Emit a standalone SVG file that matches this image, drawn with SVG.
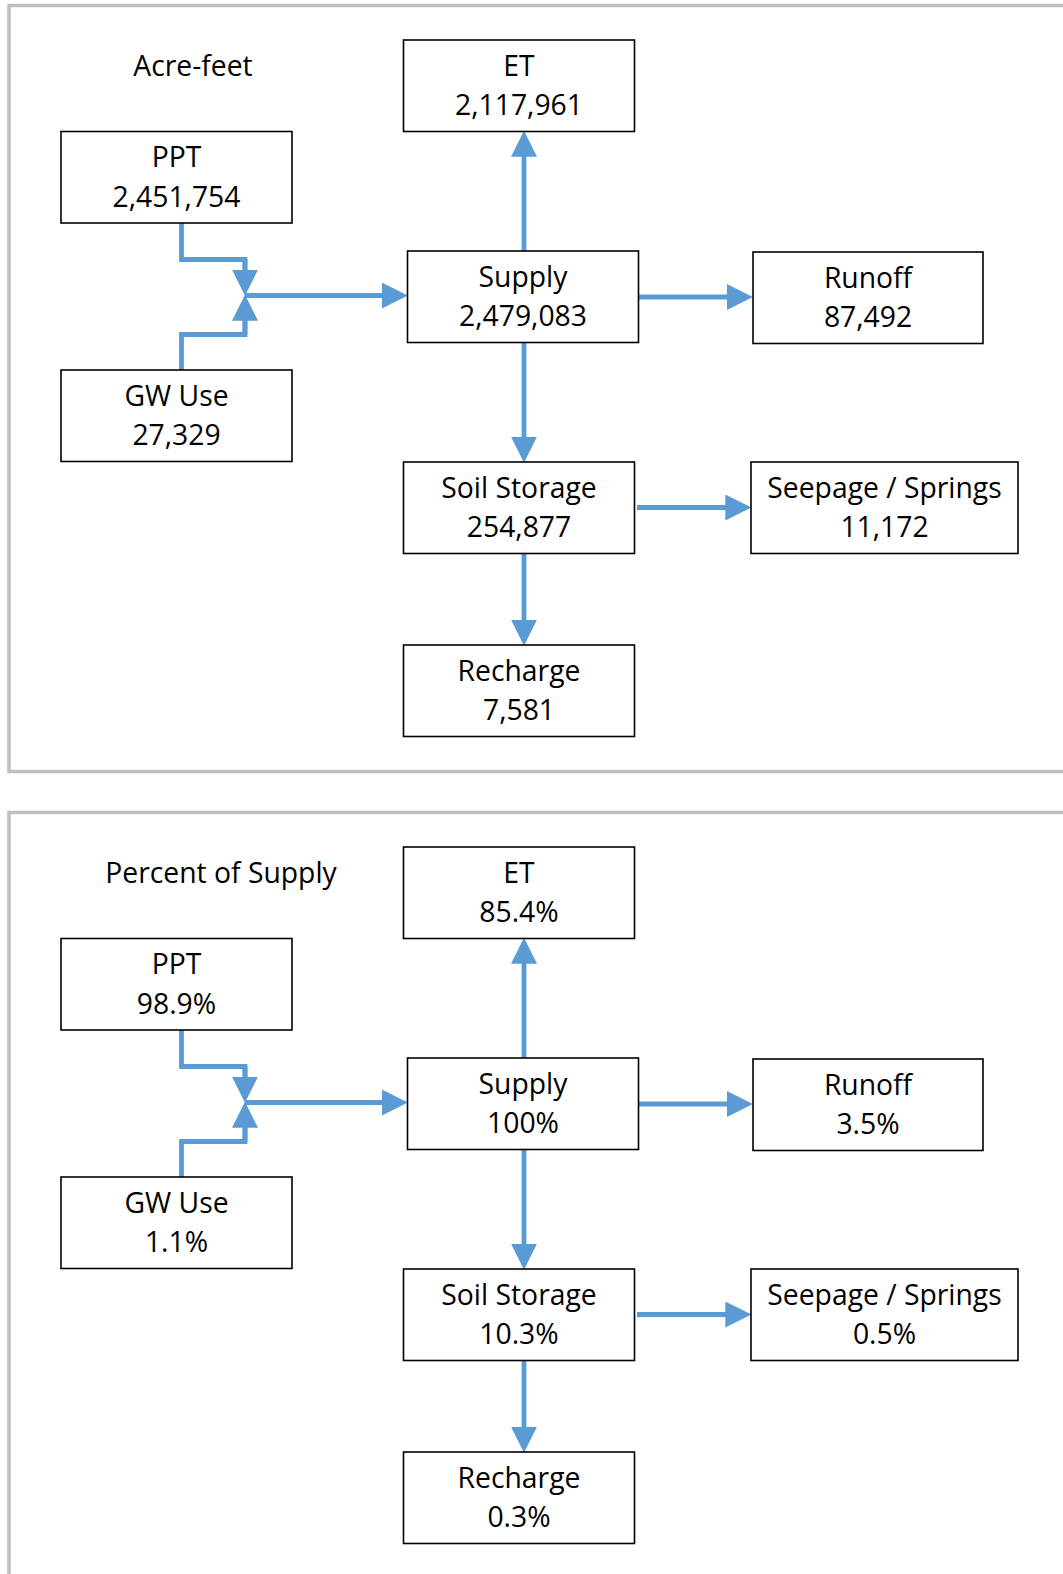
<svg xmlns="http://www.w3.org/2000/svg" width="1063" height="1574" viewBox="0 0 1063 1574">
<style>
.panel{fill:#fff;stroke:#BFBFBF;stroke-width:3.5}
.box{fill:#fff;stroke:#000;stroke-width:1.6}
.t{font-family:"Open Sans","Noto Sans","Liberation Sans",sans-serif;font-size:28.3px;fill:#000;text-anchor:middle}
.c{fill:none;stroke:#5B9BD5;stroke-width:4.8;stroke-linejoin:miter}
.a{fill:none;stroke:#5B9BD5;stroke-width:4.8;marker-end:url(#ah)}
</style>
<defs>
<marker id="ah" markerUnits="userSpaceOnUse" markerWidth="26" markerHeight="26" viewBox="0 0 25 25" refX="5" refY="12.5" orient="auto">
<path d="M0,0 L25,12.5 L0,25 Z" fill="#5B9BD5"/>
</marker>
</defs>
<rect width="1063" height="1574" fill="#fff"/>

<g id="panel1">
<rect class="panel" x="9" y="5.5" width="1100" height="766"/>
<text id="title1" class="t" x="193" y="76">Acre-feet</text>
<g id="connectors1">
<path class="c" d="M181.5,223 V259.5 H245 V272"/>
<path class="a" d="M245,259.5 V275"/>
<path class="c" d="M181.5,370 V334.5 H245 V320"/>
<path class="a" d="M245,334.5 V315.5"/>
<path class="a" d="M245,295.5 H387"/>
<path class="a" d="M524,251 V151.5"/>
<path class="a" d="M638.5,297 H732"/>
<path class="a" d="M524,342 V442"/>
<path class="a" d="M637,507.5 H730.5"/>
<path class="a" d="M524,553 V625"/>
</g>
<g id="n1-et"><rect class="box" x="403.5" y="40" width="231" height="91.5"/><text class="t" x="519" y="75.5">ET</text><text class="t" x="519" y="115">2,117,961</text></g>
<g id="n1-ppt"><rect class="box" x="61" y="131.5" width="231" height="91.5"/><text class="t" x="176.5" y="167">PPT</text><text class="t" x="176.5" y="206.5">2,451,754</text></g>
<g id="n1-supply"><rect class="box" x="407.5" y="251" width="231" height="91.5"/><text class="t" x="523" y="286.5">Supply</text><text class="t" x="523" y="326">2,479,083</text></g>
<g id="n1-runoff"><rect class="box" x="753" y="252" width="230" height="91.5"/><text class="t" x="868" y="287.5">Runoff</text><text class="t" x="868" y="327">87,492</text></g>
<g id="n1-gw"><rect class="box" x="61" y="370" width="231" height="91.5"/><text class="t" x="176.5" y="405.5">GW Use</text><text class="t" x="176.5" y="445">27,329</text></g>
<g id="n1-soil"><rect class="box" x="403.5" y="462" width="231" height="91.5"/><text class="t" x="519" y="497.5">Soil Storage</text><text class="t" x="519" y="537">254,877</text></g>
<g id="n1-seep"><rect class="box" x="751" y="462" width="267" height="91.5"/><text class="t" x="884.5" y="497.5">Seepage / Springs</text><text class="t" x="884.5" y="537">11,172</text></g>
<g id="n1-recharge"><rect class="box" x="403.5" y="645" width="231" height="91.5"/><text class="t" x="519" y="680.5">Recharge</text><text class="t" x="519" y="720">7,581</text></g>
</g>

<g id="panel2" transform="translate(0,807)">
<rect class="panel" x="9" y="5.5" width="1100" height="900"/>
<text id="title2" class="t" x="221" y="76">Percent of Supply</text>
<g id="connectors2">
<path class="c" d="M181.5,223 V259.5 H245 V272"/>
<path class="a" d="M245,259.5 V275"/>
<path class="c" d="M181.5,370 V334.5 H245 V320"/>
<path class="a" d="M245,334.5 V315.5"/>
<path class="a" d="M245,295.5 H387"/>
<path class="a" d="M524,251 V151.5"/>
<path class="a" d="M638.5,297 H732"/>
<path class="a" d="M524,342 V442"/>
<path class="a" d="M637,507.5 H730.5"/>
<path class="a" d="M524,553 V625"/>
</g>
<g id="n2-et"><rect class="box" x="403.5" y="40" width="231" height="91.5"/><text class="t" x="519" y="75.5">ET</text><text class="t" x="519" y="115">85.4%</text></g>
<g id="n2-ppt"><rect class="box" x="61" y="131.5" width="231" height="91.5"/><text class="t" x="176.5" y="167">PPT</text><text class="t" x="176.5" y="206.5">98.9%</text></g>
<g id="n2-supply"><rect class="box" x="407.5" y="251" width="231" height="91.5"/><text class="t" x="523" y="286.5">Supply</text><text class="t" x="523" y="326">100%</text></g>
<g id="n2-runoff"><rect class="box" x="753" y="252" width="230" height="91.5"/><text class="t" x="868" y="287.5">Runoff</text><text class="t" x="868" y="327">3.5%</text></g>
<g id="n2-gw"><rect class="box" x="61" y="370" width="231" height="91.5"/><text class="t" x="176.5" y="405.5">GW Use</text><text class="t" x="176.5" y="445">1.1%</text></g>
<g id="n2-soil"><rect class="box" x="403.5" y="462" width="231" height="91.5"/><text class="t" x="519" y="497.5">Soil Storage</text><text class="t" x="519" y="537">10.3%</text></g>
<g id="n2-seep"><rect class="box" x="751" y="462" width="267" height="91.5"/><text class="t" x="884.5" y="497.5">Seepage / Springs</text><text class="t" x="884.5" y="537">0.5%</text></g>
<g id="n2-recharge"><rect class="box" x="403.5" y="645" width="231" height="91.5"/><text class="t" x="519" y="680.5">Recharge</text><text class="t" x="519" y="720">0.3%</text></g>
</g>
</svg>
